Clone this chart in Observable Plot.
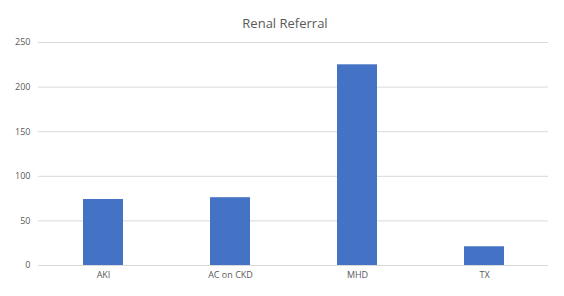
<!DOCTYPE html>
<html>
<head>
<meta charset="utf-8">
<script src="https://cdn.jsdelivr.net/npm/d3@7"></script>
<script src="https://cdn.jsdelivr.net/npm/@observablehq/plot@0.6"></script>
<style>
  html, body { margin: 0; padding: 0; background: #fff; }
  #wrap { position: relative; width: 564px; height: 296px; }
  #title { position: absolute; left: 0; top: 14px; width: 570px; text-align: center;
    font-family: "Open Sans", sans-serif; font-size: 13px; color: #595959; }
</style>
</head>
<body>
<div id="wrap">
  <div id="title">Renal Referral</div>
  <div id="chart"></div>
</div>
<script>
const categories = ["AKI", "AC on CKD", "MHD", "TX"];
const values = [74, 76, 225, 21];
const yTicks = [0, 50, 100, 150, 200, 250];

const data = categories.map((c, i) => ({category: c, value: values[i]}));

const chart = Plot.plot({
  width: 564,
  height: 296,
  marginTop: 42,
  marginBottom: 31,
  marginLeft: 38,
  marginRight: 16,
  style: {fontFamily: "Open Sans, sans-serif", fontSize: "9px", color: "#595959", background: "white"},
  x: {domain: categories, paddingInner: 0.686, paddingOuter: 0.343, label: null, tickSize: 0, tickPadding: 6},
  y: {domain: [0, 250], ticks: yTicks, label: null, tickSize: 0, tickPadding: 8},
  marks: [
    Plot.gridY(yTicks, {stroke: "#d9d9d9", strokeOpacity: 1, strokeWidth: 1}),
    Plot.barY(data, {x: "category", y: "value", fill: "#4472C4"}),
    Plot.axisX({tickSize: 0, tickPadding: 6, fill: "#595959"}),
    Plot.axisY(yTicks, {tickSize: 0, tickPadding: 8, fill: "#595959"})
  ]
});
document.getElementById("chart").appendChild(chart);
</script>
</body>
</html>
